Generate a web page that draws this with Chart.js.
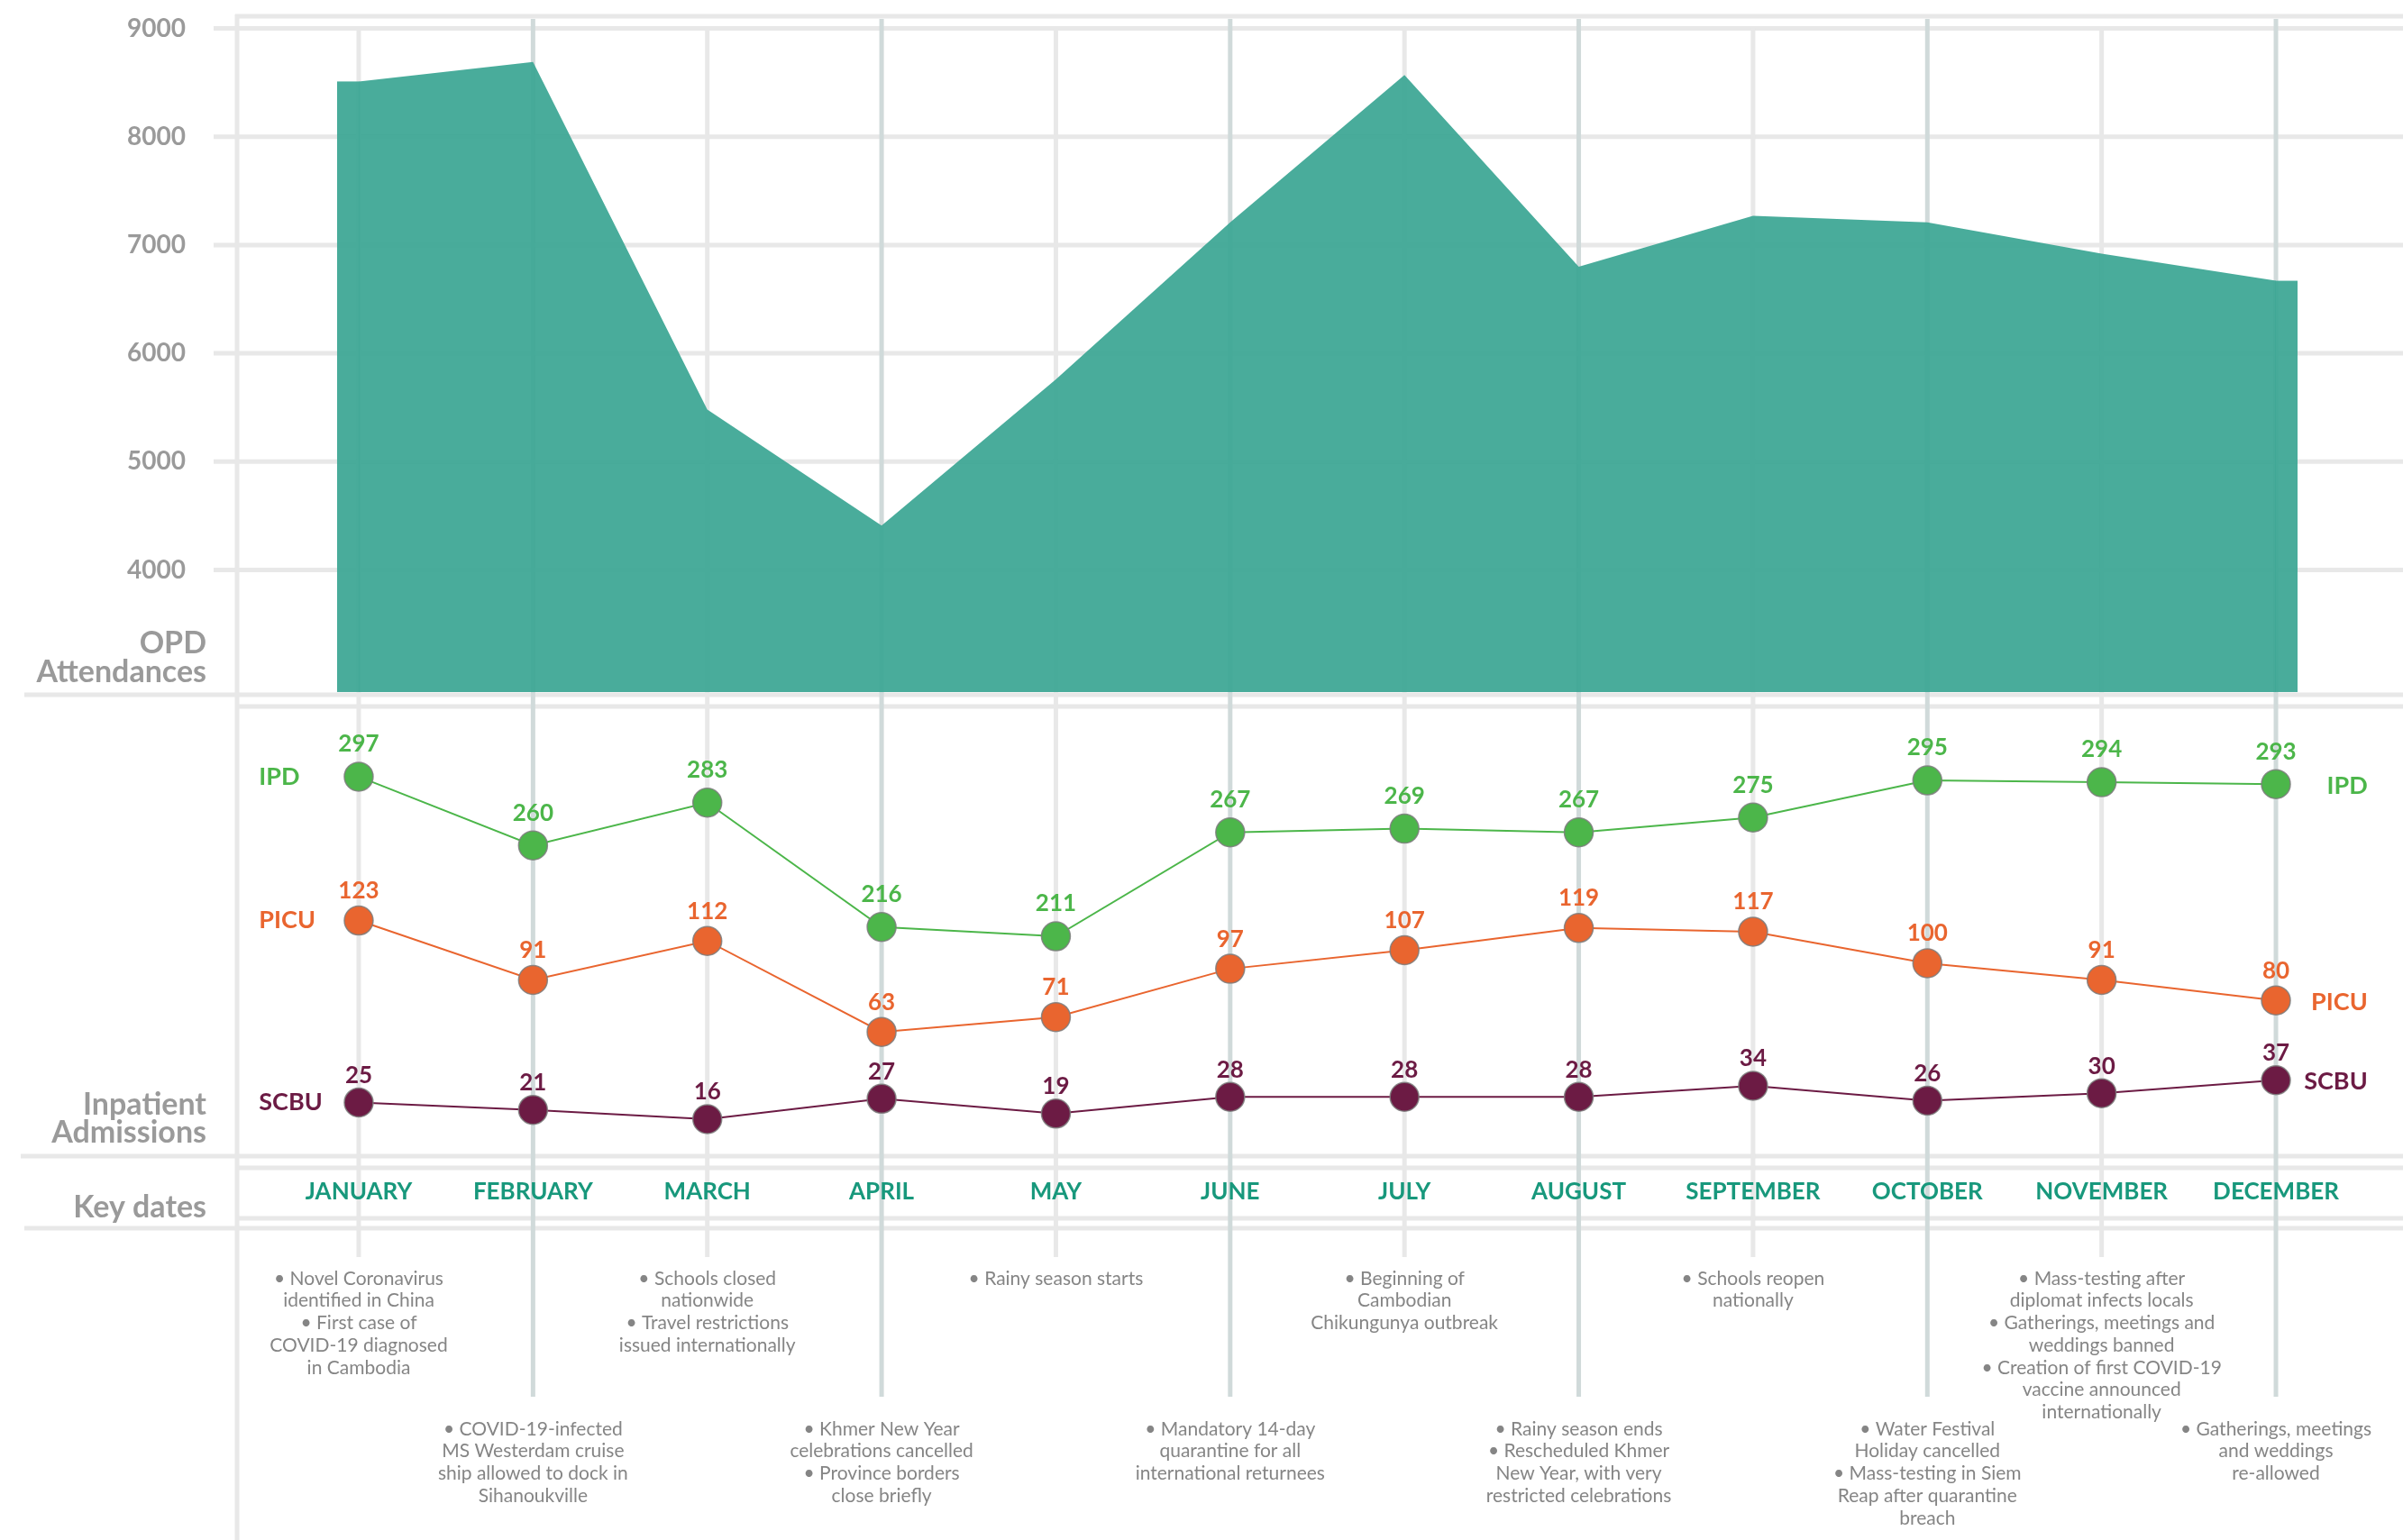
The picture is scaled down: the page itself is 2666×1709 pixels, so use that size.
<!DOCTYPE html>
<html>
<head>
<meta charset="utf-8">
<title>OPD attendances, inpatient admissions and key dates, 2020</title>
<script src="https://cdn.jsdelivr.net/npm/chart.js@4.4.1/dist/chart.umd.min.js"></script>
<style>
  html, body { margin: 0; padding: 0; background: #fff; }
  #wrap { position: relative; width: 2666px; height: 1709px; }
</style>
</head>
<body>
<div id="wrap"><canvas id="chart" width="2666" height="1709"></canvas></div>
<script>
document.addEventListener('DOMContentLoaded', () => {
    // Data
    const months = ['JANUARY', 'FEBRUARY', 'MARCH', 'APRIL', 'MAY', 'JUNE',
        'JULY', 'AUGUST', 'SEPTEMBER', 'OCTOBER', 'NOVEMBER', 'DECEMBER'];
    const opdAttendances = [8510, 8690, 5480, 4410, 5760, 7210, 8570, 6800, 7270, 7210, 6920, 6670];
    const ipdAdmissions = [297, 260, 283, 216, 211, 267, 269, 267, 275, 295, 294, 293];
    const picuAdmissions = [123, 91, 112, 63, 71, 97, 107, 119, 117, 100, 91, 80];
    const scbuAdmissions = [25, 21, 16, 27, 19, 28, 28, 28, 34, 26, 30, 37];
    const opdTicks = [4000, 5000, 6000, 7000, 8000, 9000];
    const panelTitles = [['OPD', 'Attendances'], ['Inpatient', 'Admissions'], ['Key dates']];
    const keyDates = [
        ['• Novel Coronavirus', 'identified in China', '• First case of', 'COVID-19 diagnosed', 'in Cambodia'],
        ['• COVID-19-infected', 'MS Westerdam cruise', 'ship allowed to dock in', 'Sihanoukville'],
        ['• Schools closed', 'nationwide', '• Travel restrictions', 'issued internationally'],
        ['• Khmer New Year', 'celebrations cancelled', '• Province borders', 'close briefly'],
        ['• Rainy season starts'],
        ['• Mandatory 14-day', 'quarantine for all', 'international returnees'],
        ['• Beginning of', 'Cambodian', 'Chikungunya outbreak'],
        ['• Rainy season ends', '• Rescheduled Khmer', 'New Year, with very', 'restricted celebrations'],
        ['• Schools reopen', 'nationally'],
        ['• Water Festival', 'Holiday cancelled', '• Mass-testing in Siem', 'Reap after quarantine', 'breach'],
        ['• Mass-testing after', 'diplomat infects locals', '• Gatherings, meetings and', 'weddings banned',
            '• Creation of first COVID-19', 'vaccine announced', 'internationally'],
        ['• Gatherings, meetings', 'and weddings', 're-allowed']
    ];

    const FONT = 'Lato, "Open Sans", sans-serif';
    const LINE_LIGHT = '#e8e8e8';
    const LINE_DARK = '#d0dada';
    const TITLE_GREY = '#9a9a9a';
    const NOTE_GREY = '#858585';
    const TEAL = '#18987c';
    const OPD_BASE = 2873;

    // grid, frame lines and month rules, drawn under everything
    const framePlugin = {
        id: 'frame',
        beforeDraw(chart) {
            const { ctx, width, height } = chart;
            const x = chart.scales.x;
            const yOpd = chart.scales.yOpd;
            ctx.save();
            ctx.lineWidth = 5;
            ctx.strokeStyle = LINE_LIGHT;
            const hLine = (y, from) => {
                ctx.beginPath();
                ctx.moveTo(from, y);
                ctx.lineTo(width, y);
                ctx.stroke();
            };
            hLine(18, 261);
            yOpd.ticks.forEach(t => hLine(yOpd.getPixelForValue(t.value), 237));
            [[771, 27], [784, 261], [1283, 23], [1296, 261], [1352, 261], [1363, 27]]
                .forEach(([y, from]) => hLine(y, from));
            ctx.beginPath();
            ctx.moveTo(263, 16);
            ctx.lineTo(263, height);
            ctx.stroke();

            months.forEach((m, i) => {
                const px = x.getPixelForValue(i);
                const dark = i % 2 === 1;
                ctx.strokeStyle = dark ? LINE_DARK : LINE_LIGHT;
                ctx.beginPath();
                ctx.moveTo(px, dark ? 21 : 31);
                ctx.lineTo(px, dark ? 1550 : 1395);
                ctx.stroke();
            });
            ctx.restore();
        },
        beforeDatasetsDraw(chart) {
            // the OPD area runs a little past the first and last month
            const ctx = chart.ctx;
            const ds = chart.data.datasets[0];
            const pts = chart.getDatasetMeta(0).data;
            const base = chart.scales.yOpd.getPixelForValue(OPD_BASE);
            const first = pts[0], last = pts[pts.length - 1];
            ctx.save();
            ctx.fillStyle = ds.backgroundColor;
            ctx.fillRect(first.x - 24, first.y, 24.5, base - first.y);
            ctx.fillRect(last.x - 0.5, last.y, 24.5, base - last.y);
            ctx.restore();
        }
    };

    // value labels, series names, panel titles and key dates
    const labelPlugin = {
        id: 'labels',
        afterDatasetsDraw(chart) {
            const ctx = chart.ctx;
            const area = chart.chartArea;
            ctx.save();
            ctx.textBaseline = 'middle';
            chart.data.datasets.forEach((ds, di) => {
                if (!ds.labelGap) return;
                const pts = chart.getDatasetMeta(di).data;
                ctx.fillStyle = ds.borderColor;
                ctx.font = `bold 26px ${FONT}`;
                ctx.textAlign = 'center';
                pts.forEach((pt, i) => ctx.fillText(String(ds.data[i]), pt.x, pt.y - ds.labelGap));
                ctx.font = `bold 27px ${FONT}`;
                ctx.textAlign = 'left';
                ctx.fillText(ds.label, area.left - 14, pts[0].y);
                ctx.textAlign = 'right';
                ctx.fillText(ds.label, area.right + 5, pts[pts.length - 1].y + 2);
            });

            ctx.fillStyle = TITLE_GREY;
            ctx.font = `bold 34px ${FONT}`;
            ctx.textAlign = 'right';
            ctx.textBaseline = 'alphabetic';
            const baselines = [[725, 757], [1237, 1268], [1351]];
            panelTitles.forEach((lines, p) => {
                lines.forEach((t, k) => ctx.fillText(t, 229, baselines[p][k]));
            });

            ctx.fillStyle = NOTE_GREY;
            ctx.font = `21px ${FONT}`;
            ctx.textAlign = 'center';
            ctx.textBaseline = 'middle';
            keyDates.forEach((lines, i) => {
                const px = chart.scales.x.getPixelForValue(i);
                const top = i % 2 ? 1586 : 1419;
                lines.forEach((line, k) => ctx.fillText(line, px, top + k * 24.7));
            });
            ctx.restore();
        }
    };

    const pointStyle = color => ({
        borderColor: color,
        backgroundColor: color,
        pointBackgroundColor: color,
        pointBorderColor: 'rgba(125,125,125,0.85)',
        pointBorderWidth: 1.5,
        pointRadius: 16,
        borderWidth: 2,
        tension: 0,
        fill: false
    });

    const ctx = document.getElementById('chart').getContext('2d');
    new Chart(ctx, {
        type: 'line',
        data: {
            labels: months,
            datasets: [
                {
                    label: 'OPD',
                    data: opdAttendances,
                    yAxisID: 'yOpd',
                    backgroundColor: 'rgba(59,166,147,0.93)',
                    borderColor: 'rgba(0,0,0,0)',
                    borderWidth: 0,
                    pointRadius: 0,
                    tension: 0,
                    fill: { value: OPD_BASE }
                },
                Object.assign({ label: 'IPD', data: ipdAdmissions, yAxisID: 'yIpd', labelGap: 36 }, pointStyle('#4cb64a')),
                Object.assign({ label: 'PICU', data: picuAdmissions, yAxisID: 'yIn', labelGap: 33 }, pointStyle('#e9652f')),
                Object.assign({ label: 'SCBU', data: scbuAdmissions, yAxisID: 'yIn', labelGap: 30 }, pointStyle('#6c1b44'))
            ]
        },
        options: {
            responsive: false,
            devicePixelRatio: 1,
            animation: false,
            layout: { padding: { top: 20, bottom: 20, left: 141, right: 44.3 } },
            plugins: {
                legend: { display: false },
                tooltip: { enabled: false }
            },
            scales: {
                x: {
                    type: 'category',
                    offset: true,
                    position: { yIn: -10.2 },
                    grid: { display: false, drawTicks: false },
                    border: { display: false },
                    ticks: {
                        padding: 11,
                        maxRotation: 0,
                        autoSkip: false,
                        color: TEAL,
                        font: { family: FONT, size: 26, weight: 'bold' }
                    }
                },
                yOpd: {
                    type: 'linear',
                    position: 'left',
                    min: -4789.5,
                    max: 9095.7,
                    afterBuildTicks: s => { s.ticks = opdTicks.map(v => ({ value: v })); },
                    afterFit: s => { s.width = 160.3; },
                    grid: { display: false, drawTicks: false },
                    border: { display: false },
                    ticks: {
                        padding: 0,
                        crossAlign: 'far',
                        color: TITLE_GREY,
                        callback: v => String(v),
                        font: { family: FONT, size: 28, weight: 'bold' }
                    }
                },
                yIpd: { type: 'linear', display: false, min: -104.5, max: 705.7 },
                yIn: { type: 'linear', display: false, min: -201, max: 609.2 }
            }
        },
        plugins: [framePlugin, labelPlugin]
    });
});
</script>
</body>
</html>
